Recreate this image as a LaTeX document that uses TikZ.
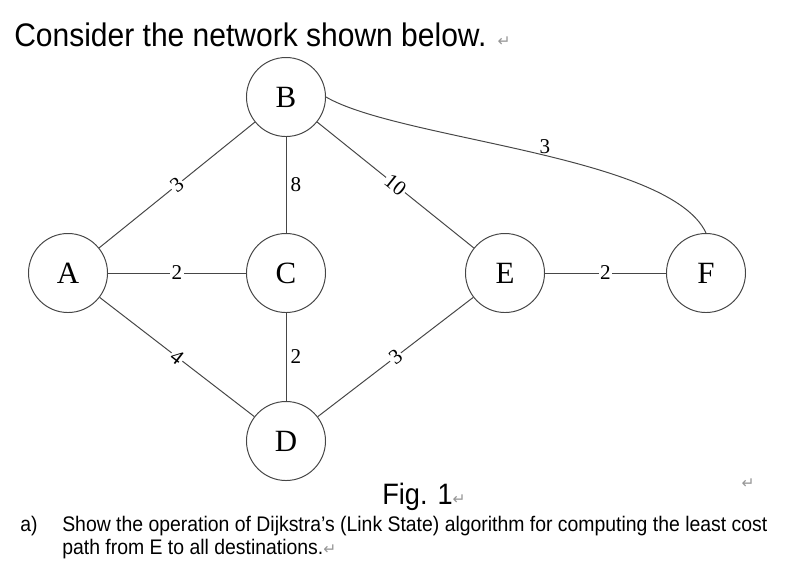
\documentclass[tikz,border=0pt]{standalone}
\usepackage{fontspec}
\setmainfont{Liberation Serif}
\newfontfamily\wordfont[FakeStretch=0.92]{Liberation Sans}
\newfontfamily\markfont{DejaVu Sans}
\usetikzlibrary{positioning}
\definecolor{cLine}{RGB}{70,70,70}
\definecolor{cMark}{RGB}{150,150,150}
\newcommand{\retsym}{{\color{cMark}\markfont\fontsize{11}{13}\selectfont ↵}}
\tikzset{
  netnode/.style={circle,draw=cLine,line width=0.7pt,minimum size=1.975cm,
                  inner sep=0pt,font=\fontsize{22}{26}\selectfont},
  link/.style={draw=cLine,line width=0.7pt},
  cost/.style={fill=white,inner sep=1pt,font=\fontsize{15}{18}\selectfont},
  sidecost/.style={inner sep=3pt,font=\fontsize{15}{18}\selectfont},
  headtxt/.style={anchor=base west,inner sep=0pt,font=\wordfont\fontsize{23.2}{27}\selectfont},
  captxt/.style={anchor=base west,inner sep=0pt,font=\wordfont\fontsize{21}{25}\selectfont},
  bodytxt/.style={anchor=base west,inner sep=0pt,font=\wordfont\fontsize{15}{18}\selectfont}
}
\begin{document}
\begin{tikzpicture}[x=0.025cm,y=-0.025cm]
  \useasboundingbox (0,0) rectangle (785,575);

  % routers
  \node[netnode] (B) at (286,97)  {B};
  \node[netnode] (A) at (68,273)  {A};
  \node[netnode] (C) at (286,273) {C};
  \node[netnode] (E) at (505,273) {E};
  \node[netnode] (F) at (706,273) {F};
  \node[netnode] (D) at (286,441) {D};

  % links with costs
  \foreach \from/\to/\w in {A/B/3,B/E/10,A/D/4,D/E/3}
    \draw[link] (\from) -- node[cost,sloped] {\w} (\to);
  \draw[link] (A) -- node[cost] {2} (C);
  \draw[link] (E) -- node[cost] {2} (F);
  \draw[link] (B) -- node[sidecost,right] {8} (C);
  \draw[link] (C) -- node[sidecost,right] {2} (D);
  \draw[link] (B.east) .. controls (400,140) and (670,155) .. (F.north)
      node[sidecost,pos=0.53,above,inner sep=1pt] {3};

  % texts
  \node[headtxt] (title) at (14,46) {Consider the network shown below. \retsym};
  \node[captxt] (figcap) at (382,504) {Fig. 1\retsym};
  \node (endmark) at (748,484) {\retsym};
  \node[bodytxt] (itema) at (20,531) {a)};
  \node[bodytxt] (qline1) at (62,531)
      {Show the operation of Dijkstra’s (Link State) algorithm for computing the least cost};
  \node[bodytxt] (qline2) at (62,554) {path from E to all destinations.\retsym};
\end{tikzpicture}
\end{document}
